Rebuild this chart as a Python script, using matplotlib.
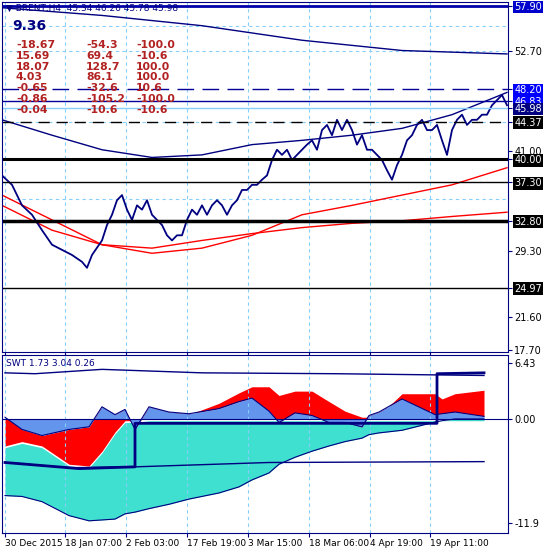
import numpy as np
import matplotlib
matplotlib.use("Agg")
import matplotlib.pyplot as plt

# ---- price panel data (x = bar position) ----
px = [0, 10, 20, 30, 40, 50, 60, 70, 80, 85, 90] + list(range(100, 510, 5))
price = [38.1, 37.0, 34.6, 33.5, 31.7, 30.0, 29.4, 28.8, 28.0, 27.3, 28.8, 30.5, 32.3, 33.5, 35.2,
         35.8, 34.1, 32.9, 34.6, 34.1, 35.2, 33.5, 32.9, 32.3, 31.1, 30.5, 31.1, 31.1, 32.9, 34.1,
         33.5, 34.6, 33.5, 34.6, 35.2, 34.6, 33.5, 34.6, 35.2, 36.4, 36.4, 37.0, 37.0, 37.6, 38.1,
         39.9, 41.1, 40.5, 41.1, 39.9, 40.5, 41.1, 41.7, 42.2, 41.1, 43.4, 44.0, 42.8, 44.6, 43.4,
         44.6, 43.4, 41.7, 42.8, 41.1, 41.1, 40.5, 39.9, 38.7, 37.6, 39.3, 40.5, 42.2, 42.8, 44.0,
         44.6, 43.4, 43.4, 44.0, 42.2, 40.5, 43.4, 44.6, 45.2, 44.0, 44.6, 44.6, 45.2, 45.2, 46.3,
         46.9, 47.5, 46.3]

env_x = [0, 100, 200, 300, 400, 505]
env_top = [57.7, 56.8, 55.6, 53.9, 52.7, 52.3]
mid_x = [0, 50, 100, 150, 200, 250, 300, 350, 400, 450, 505]
mid_line = [44.6, 42.8, 41.1, 40.2, 40.5, 41.7, 42.2, 42.8, 43.6, 45.2, 47.8]
ma_red = [35.8, 32.9, 30.0, 29.0, 29.6, 31.1, 33.5, 34.6, 35.8, 37.0, 39.0]
ma_red2 = [34.6, 31.7, 30.0, 29.6, 30.5, 31.3, 32.0, 32.5, 32.8, 33.3, 33.8]

# horizontal levels: value, colour, style, width, label bg
levels = [(57.90, "#0000aa", "-", 2.0, "#0000cc"),
          (48.20, "#000099", (0, (12, 6)), 1.0, "#0000ff"),
          (46.83, "#000099", "-", 1.0, "#0000ff"),
          (45.98, "#87cefa", "-", 1.0, "#000080"),
          (44.37, "black", (0, (8, 5)), 1.0, "black"),
          (40.00, "black", "-", 2.2, "black"),
          (37.30, "black", "-", 1.0, "black"),
          (32.80, "black", "-", 2.5, "black"),
          (24.97, "black", "-", 1.0, "black")]
plain_ticks = [52.70, 41.00, 29.30, 21.60, 17.70]

date_pos = [3, 63, 124, 185, 246, 307, 368, 428]
date_labels = ["30 Dec 2015", "18 Jan 07:00", "2 Feb 03:00", "17 Feb 19:00",
               "3 Mar 15:00", "18 Mar 06:00", "4 Apr 19:00", "19 Apr 11:00"]

table = [("-18.67", "-54.3", "-100.0"), ("15.69", "69.4", "-10.6"), ("18.07", "128.7", "100.0"),
         ("4.03", "86.1", "100.0"), ("-0.65", "-32.6", "10.6"), ("-0.86", "-105.2", "-100.0"),
         ("-0.04", "-10.6", "-10.6")]

# ---- SWT panel data ----
sx = [3, 20, 40, 67, 87, 100, 113, 123, 133, 147, 167, 187, 217, 237, 250, 267, 277, 293, 310,
      327, 343, 360, 367, 377, 400, 433, 440, 453, 482]
cyan_low = [-8.8, -8.9, -9.5, -11.1, -11.7, -11.6, -11.5, -10.9, -10.7, -10.3, -9.8, -9.2, -8.5,
            -7.8, -7.0, -6.2, -5.2, -4.4, -3.7, -3.1, -2.6, -2.2, -1.8, -1.6, -1.3, -0.35, -0.2, 0.0, 0.0]
red_line = [-3.1, -2.6, -3.1, -5.2, -5.4, -3.7, -1.5, -0.2, -0.2, 0.2, 0.3, 0.5, 1.8, 3.0, 3.7,
            3.7, 2.7, 3.2, 3.2, 2.0, 0.9, 0.2, 0.2, 0.4, 2.9, 2.9, 2.3, 2.9, 3.3]
blue_line = [0.2, -1.2, -1.9, -1.2, -0.9, 1.4, 0.5, 1.1, -1.2, 1.4, 0.8, 0.6, 1.2, 2.0, 2.4,
             0.9, -0.4, 0.7, 0.4, -0.4, -0.4, -0.9, 0.4, 0.8, 2.3, 0.5, 0.6, 0.8, 0.3]
top_x = [3, 33, 100, 200, 333, 482]
top_line = [5.3, 5.2, 5.7, 5.3, 5.2, 5.0]
low_x = [3, 67, 133, 267, 482]
low_line = [-5.0, -5.6, -5.5, -5.0, -4.9]
step_x = [3, 77, 133, 133, 435, 435, 482]
step_line = [-5.0, -5.7, -5.5, -0.5, -0.5, 5.2, 5.3]

NAVY = "#000080"
fig = plt.figure(figsize=(5.5, 5.5), dpi=100)
ax = fig.add_axes([2 / 550, 198 / 550, 506 / 550, 350 / 550])
ax2 = fig.add_axes([2 / 550, 17 / 550, 506 / 550, 178 / 550])

for a in (ax, ax2):
    a.set_xlim(0, 506)
    for s in a.spines.values():
        s.set_color(NAVY)
    a.set_xticks(date_pos)
    a.grid(axis="x", color="#87cefa", linestyle=(0, (3, 3)), linewidth=0.8)
    a.tick_params(length=3, pad=1.5, colors=NAVY, labelsize=7, labelcolor="black")
    a.yaxis.tick_right()

# price panel
ax.set_ylim(17.46, 58.37)
for lv in [55.6, 52.7, 44.37, 35.4]:
    ax.axhline(lv, color="#87cefa", linestyle=(0, (3, 3)), linewidth=0.8)
ax.plot(env_x, env_top, color=NAVY, lw=1)
ax.plot(mid_x, mid_line, color=NAVY, lw=1)
ax.plot(mid_x, ma_red, color="red", lw=1)
ax.plot(mid_x, ma_red2, color="red", lw=1)
ax.plot(px, price, color=NAVY, lw=1.3)
for v, c, ls, lw, bg in levels:
    ax.axhline(v, color=c, linestyle=ls, linewidth=lw)
ax.set_yticks([l[0] for l in levels] + plain_ticks)
ax.set_yticklabels(["%.2f" % l[0] for l in levels] + ["%.2f" % t for t in plain_ticks])
for lab, (v, c, ls, lw, bg) in zip(ax.get_yticklabels(), levels):
    lab.set_color("white")
    lab.set_bbox(dict(facecolor=bg, edgecolor="none", pad=1))
ax.set_xticklabels([])

ax.text(4, 57.6, "\u25bc BRENT,H4  45.34 46.26 45.78 45.98", color=NAVY, fontsize=6.5, va="center")
ax.text(10, 55.6, "9.36", color=NAVY, fontsize=10, fontweight="bold", va="center")
for i, row in enumerate(table):
    y = 53.3 - i * 1.25
    for xx, t in zip([14, 84, 134], row):
        ax.text(xx, y, t, color="#b22222", fontsize=7.8, fontweight="bold", va="center")

# SWT panel
ax2.set_ylim(-13.1, 7.35)
ax2.fill_between(sx, cyan_low, np.minimum(red_line, 0) - 0.2, color="#40e0d0", lw=0)
ax2.fill_between(sx, red_line, blue_line, color="red", lw=0)
ax2.fill_between(sx, 0, blue_line, color="#6495ed", lw=0)
ax2.plot(sx, blue_line, color=NAVY, lw=0.8)
ax2.plot(sx, cyan_low, color=NAVY, lw=0.8)
ax2.axhline(0, color=NAVY, lw=0.8)
ax2.plot(top_x, top_line, color=NAVY, lw=1)
ax2.plot(low_x, low_line, color=NAVY, lw=1)
ax2.plot(step_x, step_line, color=NAVY, lw=2)
ax2.set_yticks([6.43, 0.0, -11.9])
ax2.set_yticklabels(["6.43", "0.00", "-11.9"])
ax2.set_xticklabels(date_labels, fontsize=6.5)
for lab in ax2.get_xticklabels():
    lab.set_horizontalalignment("left")
ax2.text(4, 6.43, "SWT 1.73 3.04 0.26", color=NAVY, fontsize=6.5, va="center")

fig.savefig("out.png", dpi=100, facecolor="white")
